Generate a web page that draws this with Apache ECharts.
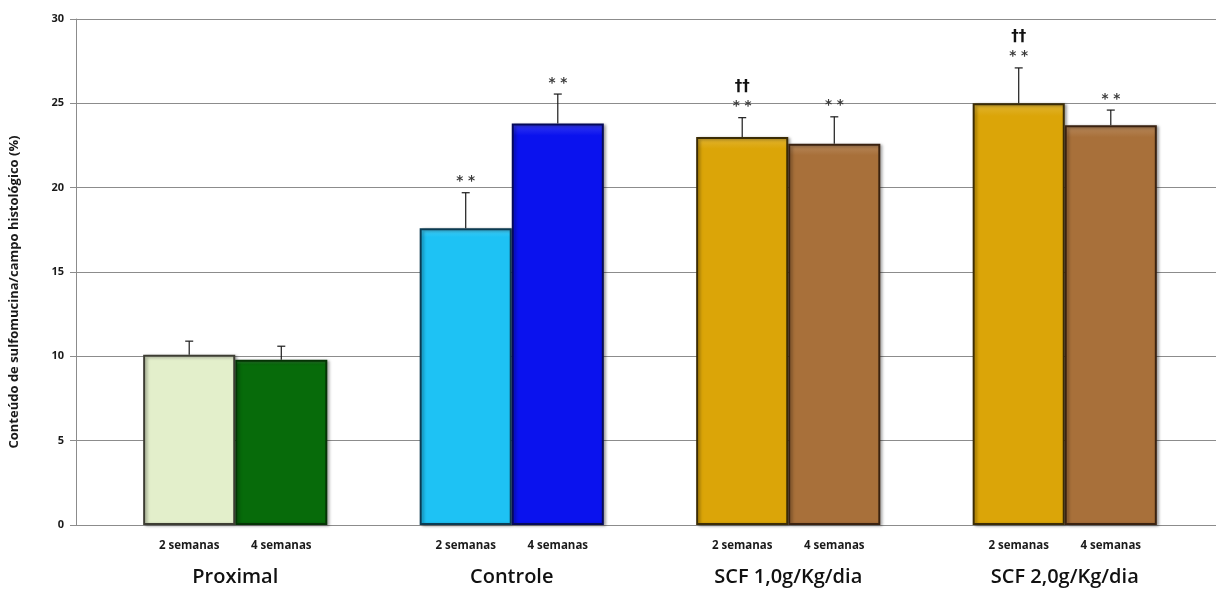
<!DOCTYPE html>
<html>
<head>
<meta charset="utf-8">
<script src="https://cdn.jsdelivr.net/npm/echarts@6/dist/echarts.min.js"></script>
<style>
  html, body { margin: 0; padding: 0; background: #fff; }
  #chart { width: 1216px; height: 600px; }
</style>
</head>
<body>
<div id="chart"></div>
<script>
// Sulfomucin content per histological field, by group and duration
const categories = ['Proximal', 'Controle', 'SCF 1,0g/Kg/dia', 'SCF 2,0g/Kg/dia'];
const periods = ['2 semanas', '4 semanas'];

const mean2 = [10.1, 17.6, 23.0, 25.0];
const mean4 = [9.8, 23.8, 22.6, 23.7];
const err2 = [0.8, 2.1, 1.15, 2.1];
const err4 = [0.8, 1.75, 1.6, 0.9];

// significance marks drawn above the error bars
const stars2 = ['', '**', '**', '**'];
const stars4 = ['', '**', '**', '**'];
const daggers2 = ['', '', '††', '††'];

const yTicks = { min: 0, max: 30, step: 5 };

// per-group fills (2 semanas, 4 semanas) and outlines
const fill2 = ['#e3efcb', '#1ec2f4', '#dba508', '#dba508'];
const fill4 = ['#076b0a', '#0a12ee', '#a8703a', '#a8703a'];
const edge2 = ['#3d3d33', '#0b3b52', '#3b2c05', '#3b2c05'];
const edge4 = ['#053305', '#050a5a', '#3a2210', '#3a2210'];

const GAP = 0.334; // share of each category left empty around its pair of bars

function barItems(values, fills, edges) {
  return values.map((v, i) => ({
    value: v,
    itemStyle: {
      color: {
        type: 'linear', x: 0, y: 0, x2: 0, y2: 1,
        colorStops: [
          { offset: 0, color: echarts.color.lift(fills[i], 0.18) },
          { offset: 0.03, color: fills[i] },
          { offset: 1, color: fills[i] }
        ]
      },
      borderColor: edges[i]
    }
  }));
}

// error bar + marks for one of the two bars in a category (side -1 left, +1 right)
function errorSeries(means, errs, stars, daggers, side) {
  return {
    type: 'custom',
    xAxisIndex: 1,
    yAxisIndex: 1,
    z: 5,
    data: means.map((m, i) => [i, m, m + errs[i]]),
    renderItem: function (params, api) {
      const i = api.value(0);
      const band = api.size([1, 0])[0];
      const off = side * band * (1 - GAP) / 4;
      const base = api.coord([i, api.value(1)]);
      const top = api.coord([i, api.value(2)]);
      const x = base[0] + off;
      const children = [
        { type: 'line', shape: { x1: x, y1: base[1], x2: x, y2: top[1] },
          style: { stroke: '#1a1a1a', lineWidth: 1.2 } },
        { type: 'line', shape: { x1: x - 4, y1: top[1], x2: x + 4, y2: top[1] },
          style: { stroke: '#1a1a1a', lineWidth: 1.2 } }
      ];
      if (stars[i]) {
        children.push({ type: 'text', style: {
          text: stars[i].split('').join(' '), x: x, y: top[1] - 11, align: 'center', verticalAlign: 'middle',
          fontFamily: 'DejaVu Sans', fontWeight: 'bold', fontSize: 13.5, fill: '#3a3a3a'
        }});
      }
      if (daggers && daggers[i]) {
        children.push({ type: 'text', style: {
          text: daggers[i], x: x, y: top[1] - 31, align: 'center', verticalAlign: 'middle',
          fontFamily: 'DejaVu Sans', fontWeight: 'bold', fontSize: 15, fill: '#111'
        }});
      }
      return { type: 'group', children: children };
    }
  };
}

const weekLabel = {
  show: true,
  position: 'bottom',
  distance: 15,
  fontFamily: 'Open Sans',
  fontWeight: 'bold',
  fontSize: 11.5,
  color: '#1a1a1a'
};

const chart = echarts.init(document.getElementById('chart'), null, { renderer: 'canvas' });
chart.setOption({
  animation: false,
  backgroundColor: '#ffffff',
  grid: [
    { left: 75, right: 0, top: 19, bottom: 75, containLabel: false },
    { left: 97, right: 13, top: 19, bottom: 75, containLabel: false }
  ],
  xAxis: [
    {
      gridIndex: 0, type: 'value', min: 0, max: 1,
      axisLine: { show: true, lineStyle: { color: '#8c8c8c', width: 1 } },
      axisTick: { show: false }, axisLabel: { show: false }, splitLine: { show: false }
    },
    {
      gridIndex: 1, type: 'category', data: categories,
      axisLine: { show: false }, axisTick: { show: false },
      axisLabel: {
        margin: 42,
        fontFamily: 'Open Sans',
        fontWeight: 600,
        fontSize: 20,
        color: '#111'
      }
    }
  ],
  yAxis: [
    {
      gridIndex: 0, type: 'value', min: yTicks.min, max: yTicks.max, interval: yTicks.step,
      name: 'Conteúdo de sulfomucina/campo histológico (%)',
      nameLocation: 'middle', nameGap: 55, nameRotate: 90,
      nameTextStyle: {
        fontFamily: 'Open Sans', fontWeight: 'bold', fontSize: 13, color: '#1a1a1a',
        padding: [0, 40, 0, 0]
      },
      axisLine: { show: true, lineStyle: { color: '#8c8c8c', width: 1 } },
      axisTick: { show: true, length: 6, lineStyle: { color: '#8c8c8c' } },
      axisLabel: { margin: 12, fontFamily: 'Open Sans', fontWeight: 'bold', fontSize: 11, color: '#1a1a1a' },
      splitLine: { show: true, lineStyle: { color: '#8c8c8c', width: 1 } }
    },
    {
      gridIndex: 1, type: 'value', min: yTicks.min, max: yTicks.max, interval: yTicks.step,
      show: false, splitLine: { show: false }
    }
  ],
  series: [
    {
      name: periods[0], type: 'bar', xAxisIndex: 1, yAxisIndex: 1,
      barGap: '0%', barCategoryGap: (GAP * 100) + '%',
      itemStyle: { borderWidth: 2, shadowColor: 'rgba(0,0,0,0.35)', shadowBlur: 3, shadowOffsetX: 2, shadowOffsetY: 1 },
      label: Object.assign({ formatter: periods[0] }, weekLabel),
      data: barItems(mean2, fill2, edge2)
    },
    {
      name: periods[1], type: 'bar', xAxisIndex: 1, yAxisIndex: 1,
      barGap: '0%', barCategoryGap: (GAP * 100) + '%',
      itemStyle: { borderWidth: 2, shadowColor: 'rgba(0,0,0,0.35)', shadowBlur: 3, shadowOffsetX: 2, shadowOffsetY: 1 },
      label: Object.assign({ formatter: periods[1] }, weekLabel),
      data: barItems(mean4, fill4, edge4)
    },
    errorSeries(mean2, err2, stars2, daggers2, -1),
    errorSeries(mean4, err4, stars4, null, 1)
  ]
});
</script>
</body>
</html>
